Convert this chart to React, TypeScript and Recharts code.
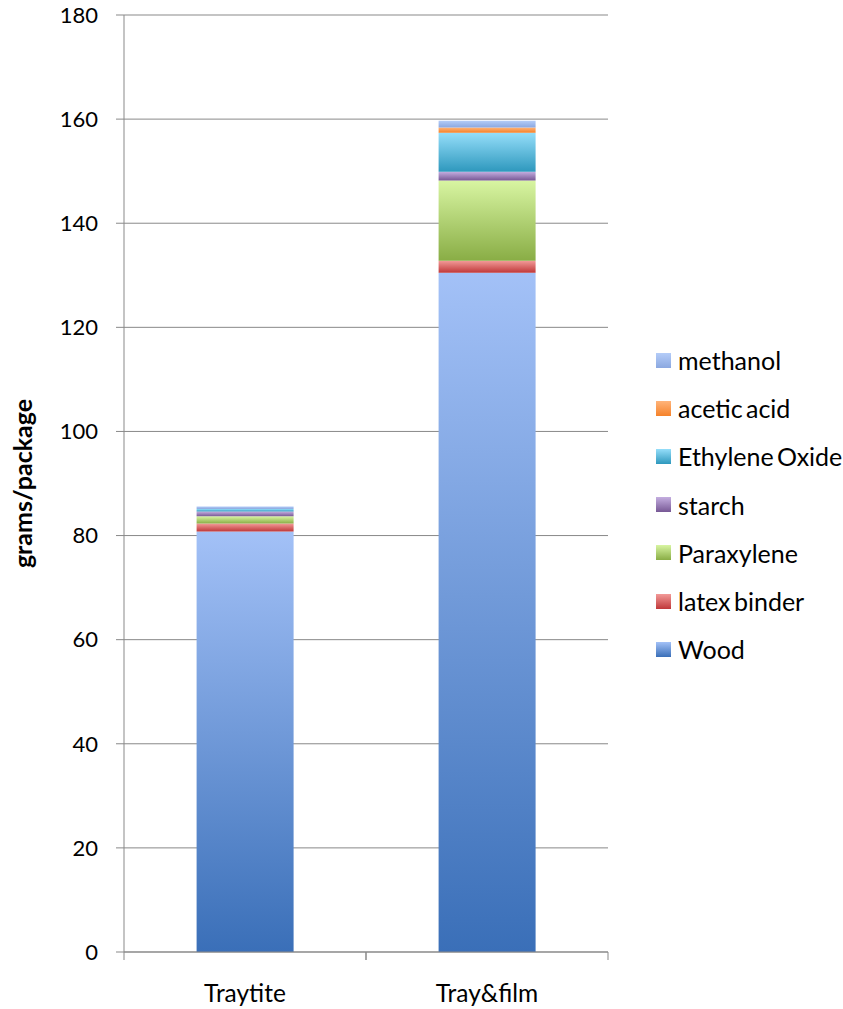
import { BarChart, Bar, XAxis, YAxis, CartesianGrid } from 'recharts';

const categories = ['Traytite', 'Tray&film'];
const wood = [80.8, 130.5];
const latexBinder = [1.5, 2.3];
const paraxylene = [1.4, 15.4];
const starch = [0.9, 1.7];
const ethyleneOxide = [0.5, 7.5];
const aceticAcid = [0, 1.0];
const methanol = [0.5, 1.3];
const yTicks = [0, 20, 40, 60, 80, 100, 120, 140, 160, 180];

// bottom-to-top stacking order
const series = [
  { key: 'wood', name: 'Wood', values: wood, top: '#a3c1f7', bottom: '#3a6fb8' },
  { key: 'latex', name: 'latex binder', values: latexBinder, top: '#f29a98', bottom: '#c0383a' },
  { key: 'para', name: 'Paraxylene', values: paraxylene, top: '#d8f5a2', bottom: '#89ad45' },
  { key: 'starch', name: 'starch', values: starch, top: '#c4aee0', bottom: '#775895' },
  { key: 'eo', name: 'Ethylene Oxide', values: ethyleneOxide, top: '#95defa', bottom: '#2e98bd' },
  { key: 'acetic', name: 'acetic acid', values: aceticAcid, top: '#ffb47a', bottom: '#f5822a' },
  { key: 'methanol', name: 'methanol', values: methanol, top: '#b4ccf8', bottom: '#8ba8e0' },
];

const data = categories.map((c, i) => {
  const row: Record<string, string | number> = { name: c };
  series.forEach((s) => (row[s.key] = s.values[i]));
  return row;
});

const FONT = 'Lato, "DejaVu Sans", sans-serif';
const GRID = '#898989';

const XTick = (props: any) => {
  const { x, y, payload } = props;
  const half = payload.offset || 121;
  const axisY = y - 33;
  return (
    <g>
      <line x1={x - half} x2={x - half} y1={axisY} y2={axisY + 8} stroke={GRID} />
      <line x1={x + half} x2={x + half} y1={axisY} y2={axisY + 8} stroke={GRID} />
      <text x={x} y={y} dy="0.71em" textAnchor="middle" fontSize={24.5} fill="#000" fontFamily={FONT}>
        {payload.value}
      </text>
    </g>
  );
};

export default function App() {
  return (
    <div style={{ position: 'absolute', left: 0, top: 0, width: 843, height: 1009, background: '#fff' }}>
      <BarChart
        width={843}
        height={1009}
        data={data}
        margin={{ top: 15, right: 235, bottom: 0, left: 0 }}
        barCategoryGap="30%"
      >
        <defs>
          {series.map((s) => (
            <linearGradient key={s.key} id={`g-${s.key}`} x1="0" y1="0" x2="0" y2="1">
              <stop offset="0%" stopColor={s.top} />
              <stop offset="100%" stopColor={s.bottom} />
            </linearGradient>
          ))}
        </defs>
        <CartesianGrid vertical={false} stroke={GRID} />
        <XAxis
          dataKey="name"
          height={57}
          stroke={GRID}
          tickLine={false}
          tickSize={8}
          tickMargin={25}
          tick={<XTick />}
          interval={0}
        />
        <YAxis
          width={124}
          domain={[0, 180]}
          ticks={yTicks}
          stroke={GRID}
          tickSize={8}
          tickMargin={18}
          tick={{ fontSize: 22, fill: '#000', fontFamily: FONT }}
          label={{
            content: ({ viewBox }: any) => (
              <text
                x={22}
                y={viewBox.y + viewBox.height / 2}
                transform={`rotate(-90, 22, ${viewBox.y + viewBox.height / 2})`}
                textAnchor="middle"
                dominantBaseline="central"
                fontSize={25}
                fontWeight="bold"
                fontFamily={FONT}
                fill="#000"
              >
                grams/package
              </text>
            ),
          }}
        />
        {series.map((s) => (
          <Bar
            key={s.key}
            dataKey={s.key}
            name={s.name}
            stackId="a"
            fill={`url(#g-${s.key})`}
            isAnimationActive={false}
          />
        ))}
      </BarChart>
      <div
        style={{
          position: 'absolute',
          left: 656,
          top: 336,
          width: 187,
          fontFamily: FONT,
          fontSize: 25,
          whiteSpace: 'nowrap',
          wordSpacing: -3,
        }}
      >
        {series
          .slice()
          .reverse()
          .map((s) => (
            <div key={s.key} style={{ display: 'flex', alignItems: 'center', height: 48.2 }}>
              <span
                style={{
                  display: 'inline-block',
                  flex: '0 0 15px',
                  width: 15,
                  height: 15,
                  marginRight: 7,
                  background: `linear-gradient(${s.top}, ${s.bottom})`,
                }}
              />
              <span>{s.name}</span>
            </div>
          ))}
      </div>
    </div>
  );
}
